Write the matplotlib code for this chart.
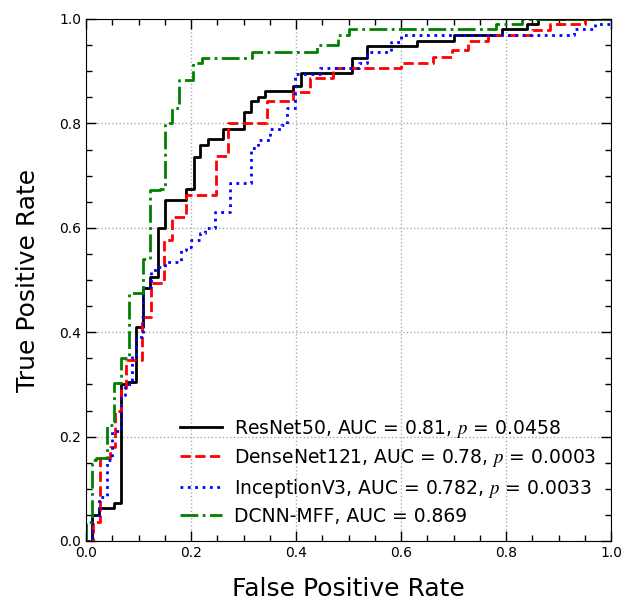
import matplotlib
matplotlib.use('Agg')
import matplotlib.pyplot as plt
from matplotlib.ticker import MultipleLocator

# ROC curves (fpr, tpr vertices)
resnet_fpr = [0.0, 0.011, 0.011, 0.025, 0.025, 0.053, 0.053, 0.067, 0.067, 0.08, 0.08, 0.095, 0.095,
              0.109, 0.109, 0.122, 0.122, 0.137, 0.137, 0.15, 0.15, 0.19, 0.19, 0.206, 0.206, 0.217,
              0.217, 0.233, 0.233, 0.26, 0.26, 0.30, 0.30, 0.314, 0.314, 0.328, 0.328, 0.341, 0.341,
              0.394, 0.394, 0.41, 0.41, 0.507, 0.507, 0.535, 0.535, 0.63, 0.63, 0.70, 0.70, 0.792,
              0.792, 0.84, 0.84, 0.861, 0.861, 1.0]
resnet_tpr = [0.0, 0.0, 0.05, 0.05, 0.063, 0.063, 0.073, 0.073, 0.30, 0.30, 0.305, 0.305, 0.41,
              0.41, 0.485, 0.485, 0.506, 0.506, 0.60, 0.60, 0.653, 0.653, 0.674, 0.674, 0.736, 0.736,
              0.758, 0.758, 0.77, 0.77, 0.79, 0.79, 0.822, 0.822, 0.843, 0.843, 0.851, 0.851, 0.862,
              0.862, 0.872, 0.872, 0.897, 0.897, 0.925, 0.925, 0.948, 0.948, 0.958, 0.958, 0.969,
              0.969, 0.98, 0.98, 0.99, 0.99, 1.0, 1.0]

densenet_fpr = [0.0, 0.013, 0.013, 0.027, 0.027, 0.046, 0.046, 0.055, 0.055, 0.067, 0.067, 0.076,
                0.076, 0.107, 0.107, 0.124, 0.124, 0.149, 0.149, 0.164, 0.164, 0.19, 0.19, 0.247,
                0.247, 0.27, 0.27, 0.345, 0.345, 0.394, 0.394, 0.427, 0.427, 0.47, 0.47, 0.60, 0.60,
                0.66, 0.66, 0.697, 0.697, 0.728, 0.728, 0.766, 0.766, 0.85, 0.85, 0.884, 0.884, 0.95,
                0.95, 1.0]
densenet_tpr = [0.0, 0.0, 0.036, 0.036, 0.159, 0.159, 0.18, 0.18, 0.25, 0.25, 0.293, 0.293, 0.347,
                0.347, 0.43, 0.43, 0.494, 0.494, 0.577, 0.577, 0.62, 0.62, 0.663, 0.663, 0.738,
                0.738, 0.80, 0.80, 0.843, 0.843, 0.86, 0.86, 0.887, 0.887, 0.906, 0.906, 0.915,
                0.915, 0.927, 0.927, 0.94, 0.94, 0.958, 0.958, 0.969, 0.969, 0.979, 0.979, 0.99,
                0.99, 1.0, 1.0]

inception_fpr = [0.0, 0.011, 0.011, 0.025, 0.025, 0.04, 0.04, 0.05, 0.05, 0.067, 0.067, 0.074, 0.074,
                 0.088, 0.088, 0.095, 0.095, 0.109, 0.109, 0.124, 0.124, 0.137, 0.137, 0.15, 0.15,
                 0.18, 0.18, 0.19, 0.19, 0.20, 0.20, 0.217, 0.217, 0.227, 0.227, 0.245, 0.245,
                 0.274, 0.274, 0.314, 0.314, 0.327, 0.327, 0.35, 0.35, 0.372, 0.372, 0.382, 0.382,
                 0.398, 0.398, 0.446, 0.446, 0.52, 0.52, 0.535, 0.535, 0.58, 0.58, 0.60, 0.60, 0.93,
                 0.93, 0.97, 0.97, 1.0, 1.0]
inception_tpr = [0.0, 0.0, 0.05, 0.05, 0.084, 0.084, 0.155, 0.155, 0.21, 0.21, 0.28, 0.28, 0.30, 0.30,
                 0.356, 0.356, 0.39, 0.39, 0.487, 0.487, 0.52, 0.52, 0.525, 0.525, 0.535, 0.535,
                 0.557, 0.557, 0.563, 0.563, 0.577, 0.577, 0.59, 0.59, 0.60, 0.60, 0.63, 0.63,
                 0.686, 0.686, 0.753, 0.753, 0.768, 0.768, 0.79, 0.79, 0.797, 0.797, 0.83, 0.83,
                 0.895, 0.895, 0.906, 0.906, 0.916, 0.916, 0.937, 0.937, 0.956, 0.956, 0.969, 0.969,
                 0.98, 0.98, 0.99, 0.99, 1.0]

dcnn_fpr = [0.0, 0.0, 0.011, 0.011, 0.019, 0.019, 0.04, 0.04, 0.053, 0.053, 0.067, 0.067, 0.082,
            0.082, 0.109, 0.109, 0.122, 0.122, 0.14, 0.14, 0.15, 0.15, 0.164, 0.164, 0.177, 0.177,
            0.204, 0.204, 0.22, 0.22, 0.316, 0.316, 0.44, 0.44, 0.48, 0.48, 0.50, 0.50, 0.78, 0.78,
            0.83, 0.83, 1.0]
dcnn_tpr = [0.0, 0.036, 0.036, 0.155, 0.155, 0.159, 0.159, 0.222, 0.222, 0.302, 0.302, 0.35, 0.35,
            0.475, 0.475, 0.54, 0.54, 0.672, 0.672, 0.675, 0.675, 0.80, 0.80, 0.83, 0.83, 0.883,
            0.883, 0.916, 0.916, 0.925, 0.925, 0.937, 0.937, 0.95, 0.95, 0.969, 0.969, 0.98, 0.98,
            0.99, 0.99, 1.0, 1.0]

labels = ['ResNet50, AUC = 0.81, $p$ = 0.0458',
          'DenseNet121, AUC = 0.78, $p$ = 0.0003',
          'InceptionV3, AUC = 0.782, $p$ = 0.0033',
          'DCNN-MFF, AUC = 0.869']

plt.rcParams['mathtext.fontset'] = 'stix'

fig = plt.figure(figsize=(6.25, 6.03), dpi=100)
ax = fig.add_axes([86 / 625, 62 / 603, 525 / 625, 522 / 603])

ax.plot(resnet_fpr, resnet_tpr, color='k', linestyle='-', lw=2, label=labels[0])
ax.plot(densenet_fpr, densenet_tpr, color='r', linestyle='--', lw=2, label=labels[1])
ax.plot(inception_fpr, inception_tpr, color='b', linestyle=':', lw=2, label=labels[2])
ax.plot(dcnn_fpr, dcnn_tpr, color='g', linestyle='-.', lw=2, label=labels[3])

ax.set_xlim(0, 1)
ax.set_ylim(0, 1)
ax.xaxis.set_major_locator(MultipleLocator(0.2))
ax.yaxis.set_major_locator(MultipleLocator(0.2))
ax.xaxis.set_minor_locator(MultipleLocator(0.05))
ax.yaxis.set_minor_locator(MultipleLocator(0.05))
ax.tick_params(which='both', direction='in', top=True, right=True, labelsize=10)
ax.tick_params(which='major', length=7, width=1)
ax.tick_params(which='minor', length=4, width=1)
ax.grid(True, which='major', linestyle=':', color='#aaaaaa', lw=1)

ax.set_xlabel('False Positive Rate', fontsize=18, labelpad=12)
ax.set_ylabel('True Positive Rate', fontsize=18, labelpad=14)

ax.legend(loc='lower right', frameon=False, fontsize=13.5, handlelength=2.25,
          handletextpad=0.6, labelspacing=0.4, borderaxespad=0.4)

plt.savefig('out.png', dpi=100)
